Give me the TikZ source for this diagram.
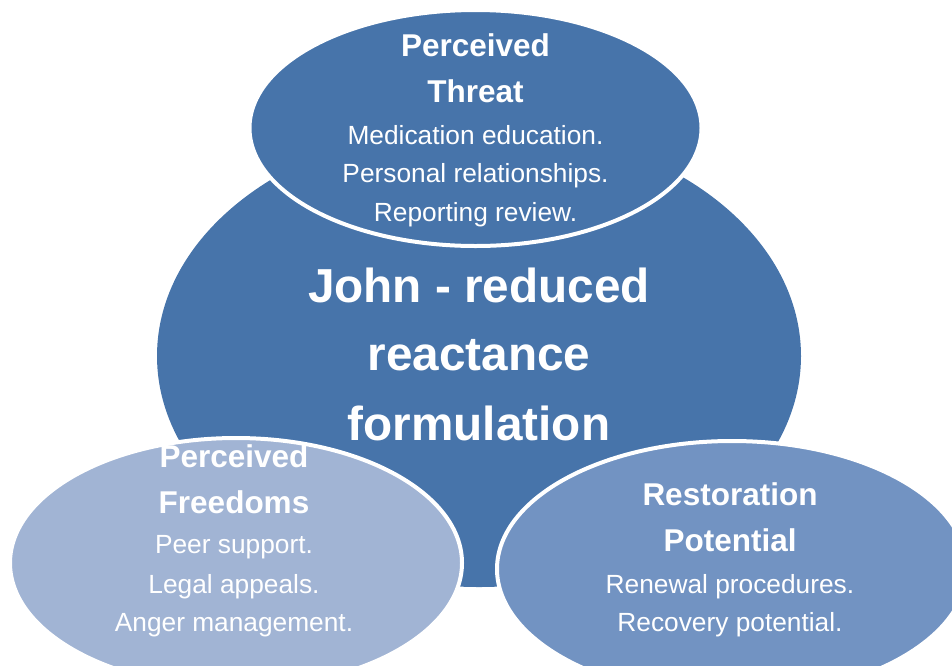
\documentclass[tikz,border=0pt]{standalone}
\usepackage{fontspec}
\setmainfont{Liberation Sans}
\definecolor{coreblue}{RGB}{71,116,170}
\definecolor{lightblue}{RGB}{161,180,212}
\definecolor{midblue}{RGB}{114,147,194}
\tikzset{
  bubble/.style={line width=4pt, draw=white},
  ttl/.style={anchor=base, text=white, inner sep=0pt, font=\bfseries\fontsize{47.7}{50}\selectfont},
  hd/.style={anchor=base, text=white, inner sep=0pt, font=\bfseries\fontsize{31.5}{34}\selectfont},
  bd/.style={anchor=base, text=white, inner sep=0pt, font=\fontsize{26.3}{28}\selectfont},
}
\begin{document}
\begin{tikzpicture}[x=1pt,y=-1pt]
\useasboundingbox (0,0) rectangle (952,665);
\clip (0,0) rectangle (952,665);
% central ellipse
\fill[coreblue] (479,356) ellipse [x radius=322pt, y radius=231pt];
% top ellipse
\filldraw[bubble, fill=coreblue] (475.5,128) ellipse [x radius=226pt, y radius=118pt];
% bottom-left ellipse
\filldraw[bubble, fill=lightblue] (236,563) ellipse [x radius=226pt, y radius=125pt];
% bottom-right ellipse
\filldraw[bubble, fill=midblue] (732,569) ellipse [x radius=235pt, y radius=128pt];
% central title
\node[ttl] (c1) at (479,302) {John - reduced};
\node[ttl] (c2) at (479,370) {reactance};
\node[ttl] (c3) at (479,440) {formulation};
% top texts
\node[hd] (a1) at (475.5,56) {Perceived};
\node[hd] (a2) at (475.5,102) {Threat};
\node[bd] (a3) at (475.5,144) {Medication education.};
\node[bd] (a4) at (475.5,182) {Personal relationships.};
\node[bd] (a5) at (475.5,221) {Reporting review.};
% bottom-left texts
\node[hd] (b1) at (234,467) {Perceived};
\node[hd] (b2) at (234,513) {Freedoms};
\node[bd] (b3) at (234,553) {Peer support.};
\node[bd] (b4) at (234,593) {Legal appeals.};
\node[bd] (b5) at (234,631) {Anger management.};
% bottom-right texts
\node[hd] (r1) at (730,505) {Restoration};
\node[hd] (r2) at (730,551) {Potential};
\node[bd] (r3) at (730,593) {Renewal procedures.};
\node[bd] (r4) at (730,631) {Recovery potential.};
\end{tikzpicture}
\end{document}
